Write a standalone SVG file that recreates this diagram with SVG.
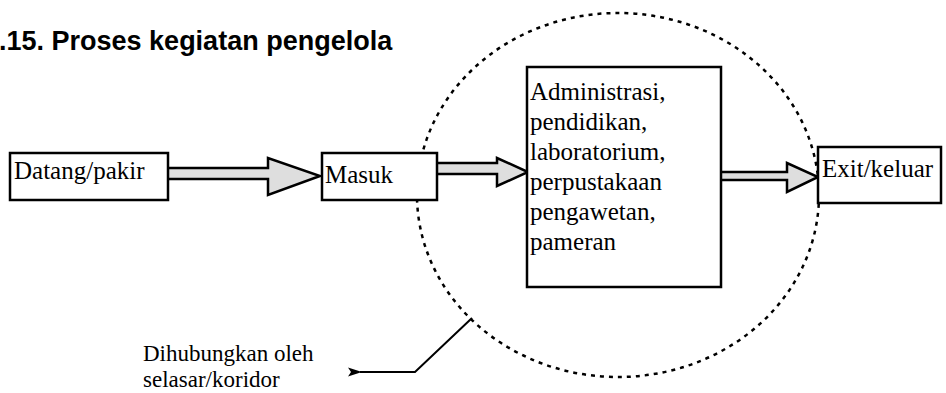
<svg xmlns="http://www.w3.org/2000/svg" width="946" height="393" viewBox="0 0 946 393">
  <style>
    .box { fill: #ffffff; stroke: #000000; stroke-width: 2.5; }
    .lbl { font-family: "Liberation Serif", "Times New Roman", serif; font-size: 25px; fill: #000000; }
    .note { font-family: "Liberation Serif", "Times New Roman", serif; font-size: 23px; fill: #000000; }
    .title { font-family: "Liberation Sans", Arial, sans-serif; font-size: 27px; font-weight: bold; fill: #000000; }
    .flow { fill: #dedede; stroke: #000000; stroke-width: 2.5; stroke-linejoin: miter; }
    .zone { fill: none; stroke: #000000; stroke-width: 2.5; stroke-dasharray: 4 5; }
    .lead { fill: none; stroke: #000000; stroke-width: 2; }
  </style>
  <defs>
    <marker id="tip" viewBox="0 0 14 10" refX="2" refY="5" markerWidth="14" markerHeight="10" markerUnits="userSpaceOnUse" orient="auto-start-reverse">
      <path d="M0,5 L14,0.5 L11,5 L14,9.5 Z" fill="#000000"/>
    </marker>
  </defs>

  <rect width="946" height="393" fill="#ffffff"/>

  <text class="title" x="-1" y="50">.15. Proses kegiatan pengelola</text>

  <!-- dotted zone around the core activities -->
  <ellipse class="zone" cx="618" cy="195" rx="201" ry="182"/>

  <g id="connectors">
    <polygon class="flow" points="160,168 268,168 268,158 320,176 268,195 268,179 160,179"/>
    <polygon class="flow" points="430,163 497,163 497,158 528,172 497,186 497,174 430,174"/>
    <polygon class="flow" points="715,172 787,172 787,163 818,177 787,192 787,180 715,180"/>
    <polyline class="lead" points="472,318 415,372 360,372" marker-end="url(#tip)"/>
  </g>

  <g id="datang">
    <rect class="box" x="10" y="153" width="158" height="47"/>
    <text class="lbl" x="14" y="179">Datang/pakir</text>
  </g>

  <g id="masuk">
    <rect class="box" x="322" y="153" width="115" height="47"/>
    <text class="lbl" x="325" y="183">Masuk</text>
  </g>

  <g id="kegiatan">
    <rect class="box" x="527" y="67" width="194" height="220"/>
    <text class="lbl" x="530" y="100">Administrasi,</text>
    <text class="lbl" x="530" y="130">pendidikan,</text>
    <text class="lbl" x="530" y="160">laboratorium,</text>
    <text class="lbl" x="530" y="190">perpustakaan</text>
    <text class="lbl" x="530" y="220">pengawetan,</text>
    <text class="lbl" x="530" y="250">pameran</text>
  </g>

  <g id="exit">
    <rect class="box" x="818" y="147" width="123" height="56"/>
    <text class="lbl" x="822" y="177">Exit/keluar</text>
  </g>

  <g id="catatan">
    <text class="note" x="143" y="361">Dihubungkan oleh</text>
    <text class="note" x="143" y="387">selasar/koridor</text>
  </g>
</svg>
